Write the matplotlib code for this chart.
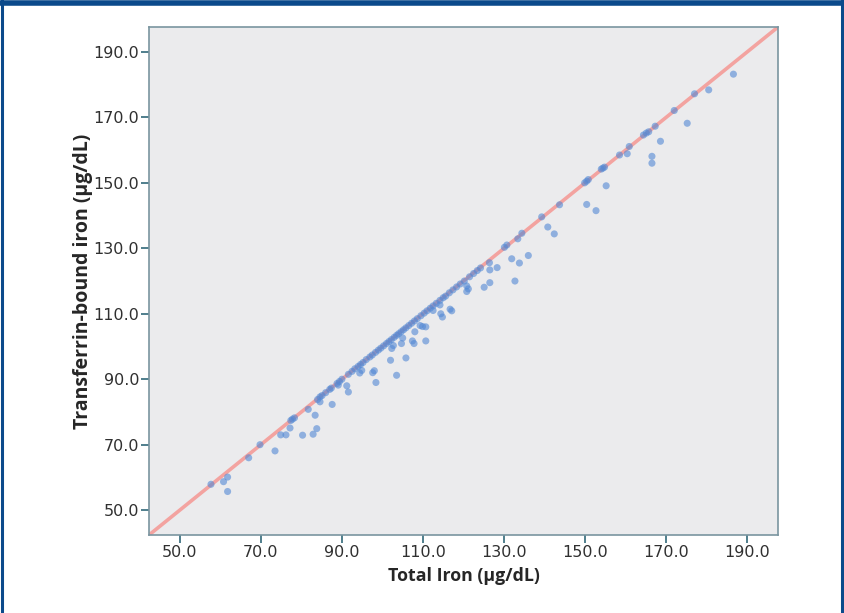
import numpy as np
import matplotlib.pyplot as plt
from matplotlib.lines import Line2D

# points lying on (or very near) the identity line
on_line_x = [57.7, 69.8, 77.4, 77.8, 78.3, 84.0, 84.6, 85.1, 86.0, 87.0, 87.4, 88.8, 89.4, 90.0,
             91.6, 92.5, 93.2, 94.0, 94.6, 95.2, 96.0, 96.9, 97.5, 98.3, 99.0, 99.6, 100.3, 101.0,
             101.6, 102.2, 102.9, 103.5, 104.0, 104.6, 105.2, 105.8, 106.5, 107.2, 107.9, 108.6,
             109.5, 110.3, 111.0, 111.8, 112.5, 113.3, 114.2, 115.0, 115.6, 116.5, 117.4, 118.3,
             119.2, 120.2, 121.5, 122.5, 123.4, 124.2, 126.4, 130.1, 130.7, 133.4, 134.4, 139.3,
             143.7, 149.9, 150.4, 150.8, 154.0, 154.4, 154.8, 158.5, 160.9, 164.4, 165.1, 165.7,
             167.3, 172.0, 177.0]
on_line_y = [57.9, 70.0, 77.4, 77.8, 78.2, 83.8, 84.6, 85.0, 85.9, 86.9, 87.3, 88.7, 89.3, 90.0,
             91.5, 92.4, 93.2, 93.9, 94.5, 95.1, 96.0, 96.8, 97.4, 98.2, 98.9, 99.5, 100.2, 100.9,
             101.5, 102.1, 102.8, 103.4, 103.9, 104.5, 105.1, 105.7, 106.4, 107.1, 107.8, 108.5,
             109.4, 110.2, 110.9, 111.7, 112.4, 113.2, 114.1, 114.9, 115.4, 116.4, 117.3, 118.2,
             119.1, 120.0, 121.3, 122.3, 123.2, 124.0, 125.6, 130.3, 131.0, 132.9, 134.6, 139.6,
             143.3, 150.0, 150.5, 151.0, 154.2, 154.5, 154.8, 158.5, 161.1, 164.6, 165.2, 165.6,
             167.3, 172.1, 177.2]

# points clearly below the line
off_line_x = [60.8, 61.8, 61.8, 67.0, 73.5, 74.9, 76.2, 77.2, 80.3, 81.7, 82.9, 83.4, 83.8, 84.6,
              87.6, 89.1, 91.2, 91.6, 94.4, 94.9, 97.6, 98.0, 98.4, 102.0, 102.3, 102.7, 103.5,
              105.8, 105.0, 104.7, 107.4, 107.8, 108.0, 109.3, 109.9, 110.7, 110.7, 112.5, 114.2,
              114.4, 114.8, 116.7, 117.1, 120.8, 121.2, 120.8, 125.1, 126.5, 126.5, 128.3, 131.9,
              133.8, 132.7, 136.0, 140.8, 142.4, 150.4, 152.7, 155.2, 160.4, 166.5, 166.5, 168.6,
              175.2, 180.5, 186.6]
off_line_y = [58.7, 60.1, 55.7, 66.0, 68.1, 73.0, 73.0, 75.1, 72.9, 80.8, 73.2, 79.0, 74.9, 83.1,
              82.3, 88.2, 88.0, 86.1, 91.9, 92.7, 92.0, 92.6, 89.0, 95.8, 99.4, 100.3, 91.2,
              96.5, 102.6, 100.9, 101.7, 100.9, 104.5, 106.4, 106.1, 106.0, 101.7, 111.0, 112.7,
              110.0, 109.0, 111.4, 110.9, 118.5, 117.6, 116.8, 118.1, 119.5, 123.4, 124.1, 126.8,
              125.5, 120.0, 127.8, 136.5, 134.4, 143.4, 141.5, 149.1, 158.9, 158.1, 156.0, 162.7,
              168.2, 178.4, 183.2]

total_iron = np.array(on_line_x + off_line_x)
tf_iron = np.array(on_line_y + off_line_y)

ticks = [50, 70, 90, 110, 130, 150, 170, 190]
lims = (42.4, 197.6)

plt.rcParams['font.family'] = ['Liberation Sans Narrow', 'DejaVu Sans']

fig = plt.figure(figsize=(8.44, 6.13), dpi=100)
ax = fig.add_axes([0.1765, 0.1272, 0.7453, 0.8287])
ax.set_facecolor('#ebebed')

# identity line
ax.plot(lims, lims, color='#f3a3a0', linewidth=2.6, zorder=2)
ax.scatter(total_iron, tf_iron, s=26, color='#5288d4', alpha=0.6, edgecolors='none', zorder=3)

ax.set_xlim(lims)
ax.set_ylim(lims)
ax.set_xticks(ticks)
ax.set_yticks(ticks)
ax.set_xticklabels([f'{t:.1f}' for t in ticks], fontsize=11.5, color='#303030')
ax.set_yticklabels([f'{t:.1f}' for t in ticks], fontsize=11.5, color='#303030')
ax.tick_params(direction='out', length=6, width=1.4, color='#4f7e8c', pad=1)
for sp in ax.spines.values():
    sp.set_color('#7a95a0')
    sp.set_linewidth(1.2)

ax.set_xlabel('Total Iron (µg/dL)', fontsize=12.8, fontweight='bold', color='#262626',
              family=['Open Sans', 'DejaVu Sans'], labelpad=5)
ax.set_ylabel('Transferrin-bound iron (µg/dL)', fontsize=14, fontweight='bold', color='#262626',
              family=['Open Sans', 'DejaVu Sans'], labelpad=0)

# dark blue frame around the figure
frame_col = '#0b4a8b'
fig.add_artist(Line2D([0, 1], [0.9955, 0.9955], transform=fig.transFigure, color=frame_col, linewidth=4))
fig.add_artist(Line2D([0.002, 0.002], [0, 1], transform=fig.transFigure, color=frame_col, linewidth=2.2))
fig.add_artist(Line2D([0.998, 0.998], [0, 1], transform=fig.transFigure, color=frame_col, linewidth=2.2))

fig.savefig('out.png', dpi=100)
